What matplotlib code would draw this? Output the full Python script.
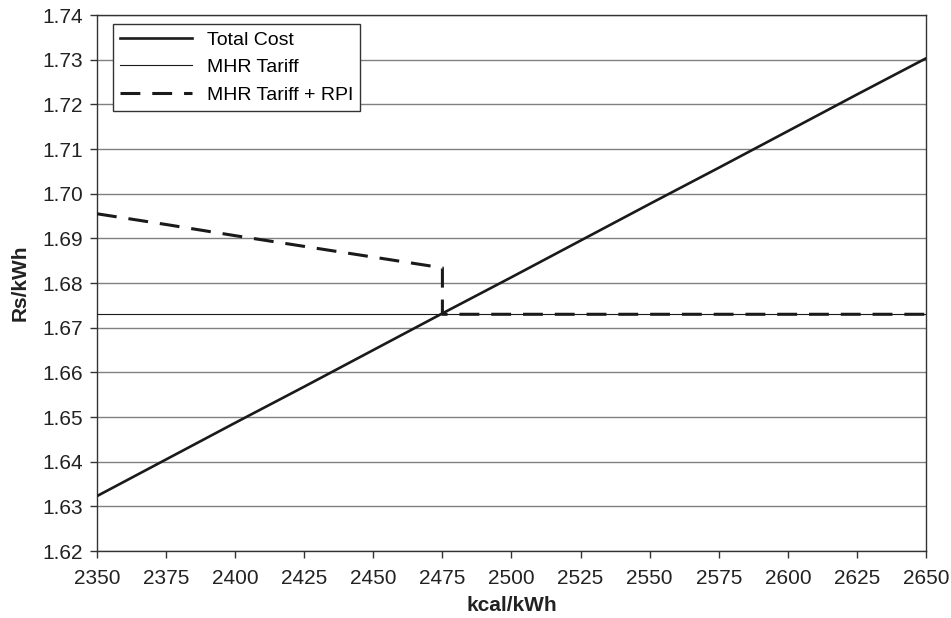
import numpy as np
import matplotlib
matplotlib.use('Agg')
import matplotlib.pyplot as plt

plt.rcParams['font.family'] = ['Liberation Sans', 'DejaVu Sans']

# Les données
kcal = [2350, 2375, 2400, 2425, 2450, 2475, 2500, 2525, 2550, 2575, 2600, 2625, 2650]
total_cost = [1.6323, 1.6405, 1.6487, 1.6568, 1.6650, 1.6732, 1.6813,
              1.6895, 1.6977, 1.7058, 1.7140, 1.7222, 1.7303]
mhr_tariff = [1.673] * len(kcal)

rpi_kcal = [2350, 2375, 2400, 2425, 2450, 2475, 2475, 2500, 2525, 2550, 2575, 2600, 2625, 2650]
rpi_tariff = [1.6955, 1.6931, 1.6906, 1.6882, 1.6858, 1.6834, 1.673,
              1.673, 1.673, 1.673, 1.673, 1.673, 1.673, 1.673]

fig = plt.figure(figsize=(9.51, 6.18), dpi=100)
ax = fig.add_axes([0.102, 0.1084, 0.8717, 0.8673])

ax.plot(kcal, total_cost, color='#1a1a1a', lw=1.9, label='Total Cost', zorder=3)
ax.plot(kcal, mhr_tariff, color='#1a1a1a', lw=0.8, label='MHR Tariff', zorder=3)
ax.plot(rpi_kcal, rpi_tariff, color='#1a1a1a', lw=2.2, dashes=(6.5, 3.9),
        label='MHR Tariff + RPI', zorder=4)

ax.set_xlim(2350, 2650)
ax.set_ylim(1.62, 1.74)
ax.set_xticks(np.arange(2350, 2651, 25))
ax.set_yticks(np.arange(1.62, 1.7401, 0.01))
ax.set_yticklabels(['%.2f' % v for v in np.arange(1.62, 1.7401, 0.01)])
ax.yaxis.grid(True, color='#808080', lw=1.0)
ax.set_axisbelow(True)

for s in ax.spines.values():
    s.set_color('#333333')
    s.set_linewidth(1.0)
ax.tick_params(direction='out', length=5, width=1, color='#333333',
               labelsize=15, labelcolor='#222222')
ax.tick_params(axis='x', pad=8)
ax.tick_params(axis='y', pad=5)

ax.set_xlabel('kcal/kWh', fontsize=15, fontweight='bold', color='#222222', labelpad=6)
ax.set_ylabel('Rs/kWh', fontsize=15, fontweight='bold', color='#222222', labelpad=9)

leg = ax.legend(loc='upper left', bbox_to_anchor=(0.0193, 0.983), fontsize=14,
                frameon=True, fancybox=False, borderpad=0.35, labelspacing=0.52,
                handlelength=3.7, handletextpad=0.8, borderaxespad=0)
leg.get_frame().set_edgecolor('#333333')
leg.get_frame().set_linewidth(1.0)
leg.get_frame().set_alpha(1)

fig.savefig('out.png', dpi=100)
